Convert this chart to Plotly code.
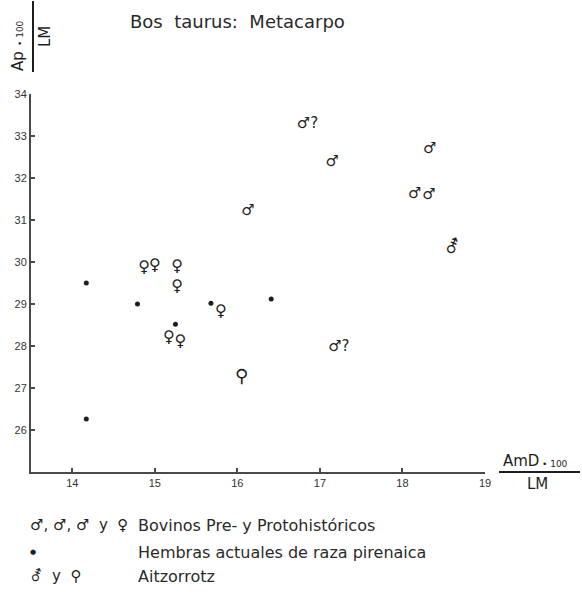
import plotly.graph_objects as go

# ---------------- data ----------------
hembras_x = [14.17, 14.17, 14.79, 15.68, 16.41, 15.25]
hembras_y = [29.50, 26.26, 29.00, 29.02, 29.12, 28.52]

bov_fem_x = [14.87, 15.00, 15.27, 15.27, 15.17, 15.31, 15.80]
bov_fem_y = [29.86, 29.90, 29.88, 29.40, 28.19, 28.10, 28.81]

bov_mac_x = [16.85, 17.15, 18.33, 18.15, 18.32, 16.13, 17.23]
bov_mac_y = [33.29, 32.38, 32.69, 31.62, 31.60, 31.21, 27.98]
bov_mac_dudoso = [True, False, False, False, False, False, True]

aitz_mac_x = [18.60]
aitz_mac_y = [30.31]
aitz_fem_x = [16.05]
aitz_fem_y = [27.26]

x_ticks = [14, 15, 16, 17, 18, 19]
y_ticks = [26, 27, 28, 29, 30, 31, 32, 33, 34]
x_range = [13.5, 19]
y_range = [25, 34]

title_text = "Bos\u00a0\u00a0taurus:\u00a0\u00a0Metacarpo"
legend_rows = [
    ("\u2642,\u00a0\u2642,\u00a0\u2642\u00a0\u00a0y\u00a0\u00a0\u2640", "Bovinos Pre- y Protohistóricos"),
    ("\u25cf", "Hembras actuales de raza pirenaica"),
    ("\u26a6\u00a0\u00a0y\u00a0\u00a0\u26b2", "Aitzorrotz"),
]

# ---------------- styling ----------------
INK = "#1e1e1e"
AXIS = "#4a4a4a"
SYM_FONT = "DejaVu Sans"
TXT_FONT = "DejaVu Sans"

W_PX, H_PX = 582, 599
L, R, T, B = 31, 485, 94, 472


def px(x):
    return (x - L) / (R - L)


def py(y):
    return (B - y) / (B - T)


fig = go.Figure()

fig.add_trace(go.Scatter(
    x=hembras_x, y=hembras_y, mode="markers",
    marker=dict(size=5, color=INK), hoverinfo="skip", showlegend=False))

fig.add_trace(go.Scatter(
    x=bov_fem_x, y=bov_fem_y, mode="text", text=["\u2640"] * len(bov_fem_x),
    textposition="middle center",
    textfont=dict(family=SYM_FONT, size=16, color=INK), showlegend=False))

mac_text = ["\u2642?" if d else "\u2642" for d in bov_mac_dudoso]
fig.add_trace(go.Scatter(
    x=bov_mac_x, y=bov_mac_y, mode="text", text=mac_text,
    textposition="middle center",
    textfont=dict(family=SYM_FONT, size=15, color=INK), showlegend=False))

fig.add_trace(go.Scatter(
    x=aitz_mac_x, y=aitz_mac_y, mode="text", text=["\u26a6"] * len(aitz_mac_x),
    textposition="middle center",
    textfont=dict(family=SYM_FONT, size=18, color=INK), showlegend=False))

fig.add_trace(go.Scatter(
    x=aitz_fem_x, y=aitz_fem_y, mode="text", text=["\u26b2"] * len(aitz_fem_x),
    textposition="middle center",
    textfont=dict(family=SYM_FONT, size=18, color=INK), showlegend=False))

axis_common = dict(
    showgrid=False, zeroline=False, showline=True, linecolor=AXIS, linewidth=2,
    ticks="inside", ticklen=4, tickwidth=1.5, tickcolor=AXIS,
    tickfont=dict(family="Liberation Sans Narrow, Liberation Sans", size=11, color="#333"),
)

fig.update_layout(
    width=W_PX, height=H_PX,
    margin=dict(l=L, r=W_PX - R, t=T, b=H_PX - B, pad=0),
    paper_bgcolor="white", plot_bgcolor="white",
    xaxis=dict(range=x_range, tickvals=x_ticks, ticktext=[str(v) for v in x_ticks], **axis_common),
    yaxis=dict(range=y_range, tickvals=y_ticks, ticktext=[str(v) for v in y_ticks], **axis_common),
    showlegend=False,
)


def note(x, y, text, size, xanchor="center", angle=0, color=INK, family=TXT_FONT):
    return dict(x=px(x), y=py(y), xref="paper", yref="paper", xanchor=xanchor, yanchor="middle",
                text=text, textangle=angle, showarrow=False,
                font=dict(family=family, size=size, color=color))


ann = []
# title
ann.append(note(128, 21, title_text, 18, xanchor="left", color="#2a2a2a"))
# y-axis label (rotated fraction)
ann.append(note(18, 61, "Ap", 15, angle=-90))
ann.append(note(20, 33, "\u2022\u00a0100", 9, angle=-90))
ann.append(note(45, 37, "LM", 15, angle=-90))
# x-axis label (fraction)
ann.append(note(541, 461, "AmD", 15, xanchor="right"))
ann.append(note(540, 464, "\u2022\u00a0100", 9, xanchor="left"))
ann.append(note(537, 484, "LM", 15))
# legend
row_y = [525, 552, 576]
for (sym, lab), yy in zip(legend_rows, row_y):
    ann.append(note(28, yy, sym, 15 if sym != "\u25cf" else 7, xanchor="left", family=SYM_FONT))
    ann.append(note(136, yy, lab, 16, xanchor="left", color="#2a2a2a"))
fig.update_layout(annotations=ann)

# fraction bars
fig.add_shape(type="line", xref="paper", yref="paper", x0=px(33), x1=px(33), y0=py(1), y1=py(72),
              line=dict(color=INK, width=2))
fig.add_shape(type="line", xref="paper", yref="paper", x0=px(499), x1=px(580), y0=py(472), y1=py(472),
              line=dict(color=INK, width=2))

fig.write_html("out.html", config={"displayModeBar": False},
               post_script="document.body.style.margin='0';document.body.style.overflow='hidden';")
